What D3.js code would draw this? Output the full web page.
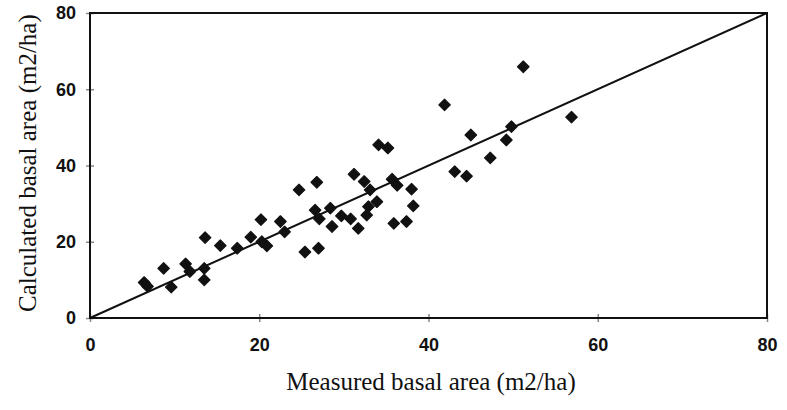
<!DOCTYPE html>
<html>
<head>
<meta charset="utf-8">
<script src="https://cdn.jsdelivr.net/npm/d3@7/dist/d3.min.js"></script>
<style>
  html, body { margin: 0; padding: 0; background: #fff; }
  svg { display: block; }
</style>
</head>
<body>
<svg id="chart" width="787" height="410"></svg>
<script>
// Data (measured vs calculated basal area, m2/ha)
const measured = [6.4, 6.8, 8.7, 9.6, 11.3, 11.8, 13.6, 13.5, 13.5, 15.4, 17.4, 19.0, 20.2, 20.3, 20.9,
  22.5, 23.0, 24.7, 25.4, 26.6, 26.8, 27.0, 27.1, 28.4, 28.6, 29.7, 30.8, 31.2, 31.7, 32.4, 32.7,
  32.9, 33.1, 33.9, 34.1, 35.2, 35.7, 35.9, 36.3, 37.4, 38.0, 38.2, 41.9, 43.1, 44.5, 45.0, 47.3,
  49.2, 49.8, 51.2, 56.9];
const calculated = [9.3, 8.3, 13.0, 8.1, 14.2, 12.2, 21.1, 13.0, 10.0, 19.0, 18.3, 21.2, 25.8, 20.0, 18.9,
  25.3, 22.6, 33.6, 17.3, 28.3, 35.6, 18.3, 26.0, 28.8, 24.0, 26.8, 26.0, 37.7, 23.5, 35.8, 27.0,
  29.2, 33.6, 30.5, 45.4, 44.6, 36.4, 24.8, 34.8, 25.3, 33.8, 29.4, 55.9, 38.4, 37.2, 48.0, 42.0,
  46.7, 50.2, 65.9, 52.7];
const lineX = [0, 80];
const lineY = [0, 80];
const xTicks = [0, 20, 40, 60, 80];
const yTicks = [0, 20, 40, 60, 80];
const xTitle = "Measured basal area (m2/ha)";
const yTitle = "Calculated basal area (m2/ha)";

const svg = d3.select("#chart");
const L = 90, R = 767, T = 13, B = 318;

const x = d3.scaleLinear().domain([0, 80]).range([L, R]);
const y = d3.scaleLinear().domain([0, 80]).range([B, T]);

const tickFont = "Arial, 'Liberation Sans', sans-serif";

// Ticks (small crossing marks)
const gx = svg.append("g").attr("transform", `translate(0,${B})`)
  .call(d3.axisBottom(x).tickValues(xTicks).tickSize(4).tickPadding(16).tickFormat(d3.format("d")));
gx.select(".domain").remove();
gx.selectAll(".tick line").attr("y1", -4).attr("y2", 4).attr("stroke", "#888").attr("stroke-width", 1.5);
gx.selectAll(".tick text").attr("font-family", tickFont)
  .attr("font-size", 18).attr("font-weight", "bold").attr("fill", "#111");

const gy = svg.append("g").attr("transform", `translate(${L},0)`)
  .call(d3.axisLeft(y).tickValues(yTicks).tickSize(4).tickPadding(10).tickFormat(d3.format("d")));
gy.select(".domain").remove();
gy.selectAll(".tick line").attr("x1", -4).attr("x2", 4).attr("stroke", "#888").attr("stroke-width", 1.5);
gy.selectAll(".tick text").attr("font-family", tickFont)
  .attr("font-size", 18).attr("font-weight", "bold").attr("fill", "#111");

// Frame
svg.append("rect").attr("x", L).attr("y", T).attr("width", R - L).attr("height", B - T)
  .attr("fill", "none").attr("stroke", "#111").attr("stroke-width", 2);

// 1:1 line
const line = d3.line().x(d => x(d[0])).y(d => y(d[1]));
svg.append("path").datum(d3.zip(lineX, lineY)).attr("d", line)
  .attr("fill", "none").attr("stroke", "#111").attr("stroke-width", 2);

// Diamonds
const sym = d3.symbol().type(d3.symbolSquare).size(66);
svg.append("g").selectAll("path").data(d3.zip(measured, calculated)).join("path")
  .attr("transform", d => `translate(${x(d[0])},${y(d[1])}) rotate(45)`)
  .attr("d", sym)
  .attr("fill", "#111").attr("stroke", "#111").attr("stroke-width", 1.2).attr("stroke-linejoin", "round");

// Titles
svg.append("text").attr("x", 431).attr("y", 390).attr("text-anchor", "middle")
  .attr("font-family", "'Times New Roman', 'Liberation Serif', serif").attr("font-size", 25).attr("fill", "#111")
  .text(xTitle);
svg.append("text").attr("transform", "translate(36,312) rotate(-90)").attr("text-anchor", "start")
  .attr("font-family", "'Times New Roman', 'Liberation Serif', serif").attr("font-size", 25).attr("fill", "#111")
  .text(yTitle);
</script>
</body>
</html>
